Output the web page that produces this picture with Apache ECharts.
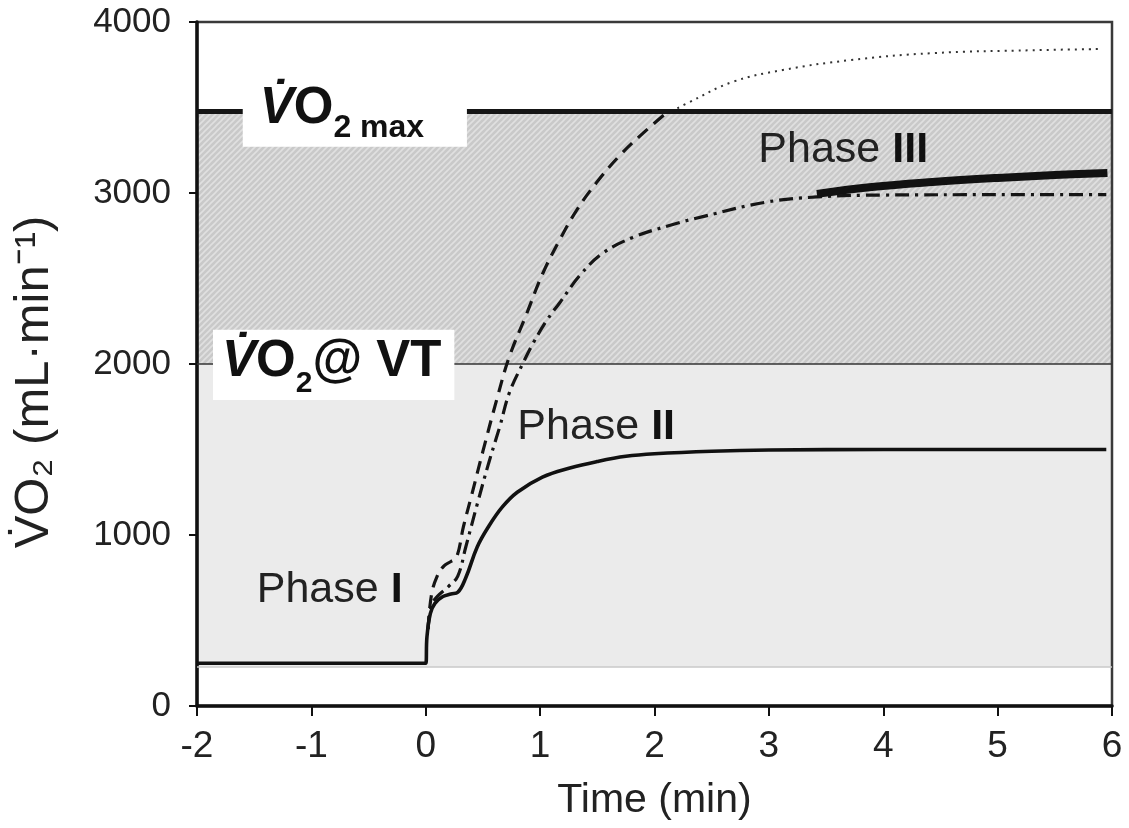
<!DOCTYPE html>
<html>
<head>
<meta charset="utf-8">
<script src="https://cdn.jsdelivr.net/npm/echarts@6/dist/echarts.min.js"></script>
<style>
html,body{margin:0;padding:0;background:#fff;}
#chart{width:1129px;height:828px;}
</style>
</head>
<body>
<div id="chart"></div>
<script>
// ---- data ----
const xTicks = [-2, -1, 0, 1, 2, 3, 4, 5, 6];
const yTicks = [0, 1000, 2000, 3000, 4000];

const restFloor = 230;      // bottom of light grey domain
const vtLevel = 2000;       // VO2 @ VT
const vo2maxLevel = 3480;   // VO2 max

// moderate exercise (solid)
const moderateT = [-2, 0, 0.01, 0.04, 0.08, 0.15, 0.22, 0.28, 0.35, 0.45, 0.55, 0.67, 0.8, 1.02, 1.26, 1.5, 1.75, 2.0, 2.5, 3.0, 4.0, 5.95];
const moderateV = [250, 250, 400, 540, 600, 640, 655, 665, 750, 930, 1050, 1164, 1250, 1339, 1392, 1430, 1460, 1475, 1490, 1497, 1500, 1500];

// heavy exercise (dash-dot)
const heavyT = [0.02, 0.05, 0.1, 0.2, 0.28, 0.35, 0.45, 0.55, 0.65, 0.73, 0.85, 0.94, 1.06, 1.17, 1.35, 1.55, 1.81, 2.13, 2.44, 2.98, 3.42, 4.0, 5.0, 5.95];
const heavyV = [450, 590, 640, 700, 760, 930, 1180, 1420, 1640, 1830, 2005, 2123, 2257, 2357, 2520, 2649, 2740, 2810, 2865, 2947, 2977, 2988, 2990, 2990];

// slow component (thick solid)
const slowT = [3.42, 3.9, 4.43, 5.0, 5.5, 5.96];
const slowV = [2995, 3035, 3064, 3088, 3105, 3117];

// severe exercise (dashed)
const severeT = [0.02, 0.05, 0.1, 0.16, 0.22, 0.27, 0.33, 0.4, 0.5, 0.62, 0.73, 0.88, 1.02, 1.17, 1.32, 1.49, 1.7, 1.9, 2.08];
const severeV = [450, 650, 760, 820, 845, 870, 1050, 1230, 1490, 1790, 2041, 2290, 2525, 2725, 2900, 3058, 3222, 3350, 3455];

// projected severe (dotted)
const projT = [2.2, 2.29, 2.68, 3.12, 3.71, 4.43, 5.31, 5.92];
const projV = [3495, 3526, 3649, 3719, 3777, 3818, 3835, 3842];

// annotations (data coordinates)
const annotations = [
  {t: -0.84, v: 680, roman: 'I'},
  {t: 1.49, v: 1632, roman: 'II'},
  {t: 3.65, v: 3251, roman: 'III'}
];
const maxBox = {t0: -1.6, t1: 0.36, v0: 3700, v1: 3270};
const vtBox = {t0: -1.86, t1: 0.25, v0: 2200, v1: 1790};

const zip = (a, b) => a.map((x, i) => [x, b[i]]);

// hatch pattern
function hatch() {
  const s = 6;
  const c = document.createElement('canvas');
  c.width = s; c.height = s;
  const g = c.getContext('2d');
  g.fillStyle = '#c9c9c9';
  g.fillRect(0, 0, s, s);
  g.strokeStyle = '#e0e0e0';
  g.lineWidth = 1.6;
  g.beginPath();
  g.moveTo(-1, s + 1); g.lineTo(s + 1, -1);
  g.moveTo(-1, 1); g.lineTo(1, -1);
  g.moveTo(s - 1, s + 1); g.lineTo(s + 1, s - 1);
  g.stroke();
  return c;
}

const FONT = 'Liberation Sans, Arial, sans-serif';
const chart = echarts.init(document.getElementById('chart'));
const SM = 0.4;

const option = {
  animation: false,
  backgroundColor: '#fff',
  grid: {left: 197, right: 17, top: 22, bottom: 122, show: true, z: 2, borderColor: '#3a3a3a', borderWidth: 2.5, backgroundColor: 'transparent'},
  xAxis: {
    type: 'value', min: -2, max: 6, interval: 1, z: 3,
    axisLine: {onZero: false, lineStyle: {color: '#111', width: 3.5}},
    axisTick: {show: true, length: 10, lineStyle: {color: '#111', width: 2}},
    splitLine: {show: false},
    axisLabel: {color: '#222', fontSize: 37, fontFamily: FONT, margin: 22, formatter: v => String(v)},
    name: 'Time (min)', nameLocation: 'middle', nameGap: 74,
    nameTextStyle: {color: '#222', fontSize: 41, fontFamily: FONT}
  },
  yAxis: {
    type: 'value', min: 0, max: 4000, interval: 1000, z: 3,
    axisLine: {show: true, onZero: false, lineStyle: {color: '#111', width: 3.5}},
    axisTick: {show: true, length: 8, lineStyle: {color: '#111', width: 2}},
    splitLine: {show: false},
    axisLabel: {color: '#222', fontSize: 35, fontFamily: FONT, margin: 26, formatter: v => String(v)},
    name: 'V\u0307O\u2082 (mL\u00b7min\u207b\u00b9)', nameLocation: 'middle', nameGap: 138,
    nameTextStyle: {color: '#222', fontSize: 49, fontFamily: FONT, padding: [0, 36, 0, 0]}
  },
  series: [
    {
      type: 'line', data: [], z: 1, silent: true,
      markArea: {
        silent: true,
        data: [
          [{xAxis: -2, yAxis: restFloor, itemStyle: {color: '#ebebeb'}}, {xAxis: 6, yAxis: vtLevel}],
          [{xAxis: -2, yAxis: vtLevel, itemStyle: {color: {image: hatch(), repeat: 'repeat'}}}, {xAxis: 6, yAxis: vo2maxLevel}]
        ]
      },
      markLine: {
        silent: true, symbol: 'none', label: {show: false},
        data: [
          [{coord: [-2, restFloor], lineStyle: {color: '#c8c8c8', width: 1.5, type: 'solid'}}, {coord: [6, restFloor]}],
          [{coord: [-2, vtLevel], lineStyle: {color: '#333', width: 1.5, type: 'solid'}}, {coord: [6, vtLevel]}],
          [{coord: [-2, vo2maxLevel], lineStyle: {color: '#151515', width: 5, type: 'solid'}}, {coord: [6, vo2maxLevel]}]
        ]
      }
    },
    {
      name: 'projected', type: 'line', z: 4, symbol: 'none', smooth: SM,
      data: zip(projT, projV),
      lineStyle: {color: '#333', width: 2, type: [2, 5]}
    },
    {
      name: 'severe', type: 'line', z: 5, symbol: 'none', smooth: SM,
      data: zip(severeT, severeV),
      lineStyle: {color: '#151515', width: 3.2, type: [13, 8]}
    },
    {
      name: 'heavy', type: 'line', z: 5, symbol: 'none', smooth: SM,
      data: zip(heavyT, heavyV),
      lineStyle: {color: '#151515', width: 3.2, type: [14, 6, 3, 6]}
    },
    {
      name: 'slow', type: 'line', z: 6, symbol: 'none', smooth: SM,
      data: zip(slowT, slowV),
      lineStyle: {color: '#111', width: 8, cap: 'butt'}
    },
    {
      name: 'moderate', type: 'line', z: 7, symbol: 'none', smooth: SM,
      data: zip(moderateT, moderateV),
      lineStyle: {color: '#111', width: 3.6}
    }
  ]
};
chart.setOption(option);

function px(t, v) { return chart.convertToPixel({gridIndex: 0}, [t, v]); }

const graphics = [];
function box(b) {
  const p0 = px(b.t0, b.v0), p1 = px(b.t1, b.v1);
  graphics.push({type: 'rect', z: 50, shape: {x: p0[0], y: p0[1], width: p1[0] - p0[0], height: p1[1] - p0[1]}, style: {fill: '#fff'}});
  return [p0, p1];
}
const big = {fontSize: 51, fontWeight: 'bold', fontFamily: FONT, fill: '#111', lineHeight: 52, verticalAlign: 'bottom'};
const mb = box(maxBox);
graphics.push({
  type: 'text', z: 51,
  x: mb[0][0] + 17, y: mb[1][1] - 12,
  style: {
    text: '{v|V\u0307}{o|O}{s|2 max}',
    verticalAlign: 'bottom', align: 'left',
    rich: {
      v: Object.assign({}, big, {fontStyle: 'italic'}),
      o: big,
      s: {fontSize: 32, fontWeight: 'bold', fontFamily: FONT, fill: '#111', lineHeight: 36, verticalAlign: 'bottom', padding: [0, 0, -9, 0]}
    }
  }
});
const vb = box(vtBox);
graphics.push({
  type: 'text', z: 51,
  x: vb[0][0] + 9, y: vb[1][1] - 12,
  style: {
    text: '{v|V\u0307}{o|O}{s|2}{o|@ VT}',
    verticalAlign: 'bottom', align: 'left',
    rich: {
      v: Object.assign({}, big, {fontStyle: 'italic'}),
      o: big,
      s: {fontSize: 30, fontWeight: 'bold', fontFamily: FONT, fill: '#111', lineHeight: 34, verticalAlign: 'bottom', padding: [0, 0, -11, 0]}
    }
  }
});
annotations.forEach(a => {
  const p = px(a.t, a.v);
  graphics.push({
    type: 'text', z: 52, x: p[0], y: p[1],
    style: {
      text: '{n|Phase }{b|' + a.roman + '}',
      align: 'center', verticalAlign: 'middle',
      rich: {
        n: {fontSize: 43, fontFamily: FONT, fill: '#222'},
        b: {fontSize: 43, fontWeight: 'bold', fontFamily: FONT, fill: '#111'}
      }
    }
  });
});
chart.setOption({graphic: graphics});
</script>
</body>
</html>
